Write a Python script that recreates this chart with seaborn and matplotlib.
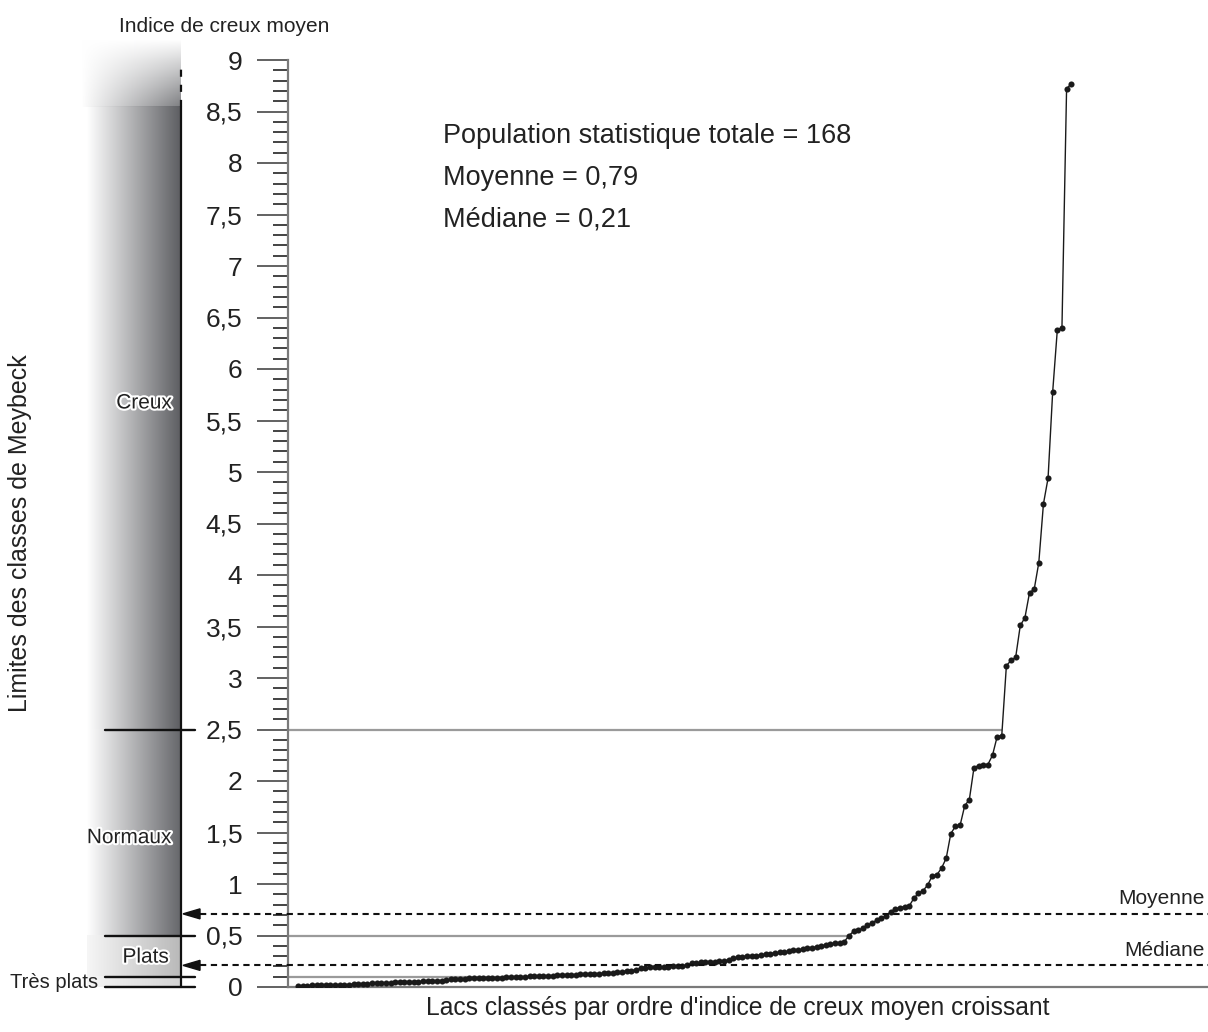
import numpy as np
import pandas as pd
import matplotlib
matplotlib.use("Agg")
import matplotlib.pyplot as plt
import seaborn as sns
from matplotlib.colors import to_rgb
from matplotlib import transforms
from matplotlib.patches import Polygon
from matplotlib.ticker import MultipleLocator, FixedLocator, FixedFormatter
import matplotlib.patheffects as pe

sns.set_theme(style="white")
plt.rcParams['font.family'] = ['Liberation Sans', 'DejaVu Sans']

# ---------------- data ----------------
indice_creux = [
    0.010, 0.012, 0.014, 0.015, 0.016, 0.017, 0.018, 0.019, 0.020, 0.021,
    0.022, 0.024, 0.028, 0.030, 0.031, 0.032, 0.034, 0.036, 0.038, 0.040,
    0.042, 0.044, 0.046, 0.048, 0.049, 0.050, 0.052, 0.054, 0.056, 0.058,
    0.060, 0.063, 0.068, 0.075, 0.078, 0.080, 0.082, 0.083, 0.085, 0.086,
    0.087, 0.088, 0.089, 0.090, 0.091, 0.093, 0.094, 0.096, 0.098, 0.100,
    0.102, 0.104, 0.106, 0.108, 0.110, 0.111, 0.112, 0.114, 0.116, 0.118,
    0.120, 0.122, 0.124, 0.126, 0.128, 0.130, 0.133, 0.136, 0.140, 0.145,
    0.150, 0.155, 0.160, 0.165, 0.180, 0.188, 0.190, 0.192, 0.194, 0.196,
    0.198, 0.200, 0.203, 0.206, 0.212, 0.230, 0.235, 0.238, 0.241, 0.244,
    0.247, 0.250, 0.255, 0.260, 0.280, 0.290, 0.295, 0.298, 0.300, 0.305,
    0.310, 0.320, 0.325, 0.330, 0.335, 0.340, 0.345, 0.355, 0.360, 0.365,
    0.375, 0.380, 0.390, 0.395, 0.410, 0.420, 0.425, 0.430,
    0.44, 0.50, 0.54, 0.55, 0.57, 0.60, 0.62, 0.65, 0.67, 0.69,
    0.73, 0.757, 0.77, 0.78, 0.786, 0.86, 0.91, 0.935, 0.99, 1.08,
    1.09, 1.155, 1.25, 1.49, 1.56, 1.57, 1.76, 1.82, 2.13, 2.15,
    2.155, 2.16, 2.25, 2.43, 2.44, 3.12, 3.17, 3.20, 3.51, 3.585,
    3.83, 3.86, 4.12, 4.69, 4.94, 5.78, 6.38, 6.40, 8.72, 8.77,
]
rang = list(range(1, len(indice_creux) + 1))

limites_classes = [0.1, 0.5, 2.5]           # Meybeck class limits
noms_classes = ["Très plats", "Plats", "Normaux", "Creux"]
niveau_moyenne = 0.71                        # drawn level of the mean line
niveau_mediane = 0.21
textes_stats = ["Population statistique totale = 168",
                "Moyenne = 0,79",
                "Médiane = 0,21"]
y_major = [i * 0.5 for i in range(19)]
y_labels = [f"{v:g}".replace(".", ",") for v in y_major]

df = pd.DataFrame({"rang": rang, "indice": indice_creux})

# ---------------- figure ----------------
W, H = 1208, 1032
fig = plt.figure(figsize=(W / 100, H / 100), dpi=100)
ax_bottom_px, ax_top_px = 987, 60
ax = fig.add_axes([288 / W, (H - ax_bottom_px) / H, (W - 288) / W,
                   (ax_bottom_px - ax_top_px) / H])
axL = fig.add_axes([0, (H - ax_bottom_px) / H, 288 / W,
                    (ax_bottom_px - ax_top_px) / H])
axL.set_xlim(0, 288)
axL.set_ylim(0, 9)
axL.axis("off")

# main axis
ax.set_ylim(0, 9)
ax.set_xlim(1 - 10 / 4.63, 1 + 910 / 4.63)
for s in ["top", "right"]:
    ax.spines[s].set_visible(False)
for s in ["left", "bottom"]:
    ax.spines[s].set_color("#7a7a7a")
    ax.spines[s].set_linewidth(1.6)
ax.set_xticks([])
ax.yaxis.set_major_locator(FixedLocator(y_major))
ax.yaxis.set_major_formatter(FixedFormatter(y_labels))
ax.yaxis.set_minor_locator(MultipleLocator(0.1))
ax.tick_params(axis="y", which="major", direction="out", length=22, width=1.3,
               color="#555555", pad=11, labelsize=19, labelcolor="#222222", left=True)
ax.tick_params(axis="y", which="minor", direction="out", length=11, width=1.1,
               color="#111111", left=True)
ax.grid(False)

# grey class-limit lines, ending at the curve
xl = ax.get_xlim()[0]
for t in limites_classes:
    xend = float(np.interp(t, indice_creux, rang))
    ax.hlines(t, xl, xend, color="#9a9a9a", lw=1.6, zorder=1)

sns.lineplot(data=df, x="rang", y="indice", ax=ax, color="#1a1a1a", lw=1.0,
             marker="o", markersize=4.4, markeredgewidth=0, zorder=3)
ax.set_xlabel("")
ax.set_ylabel("")

# ---------------- left panel: gradient bands ----------------
def grad_img(c0, c1, n=256, alpha_v=None):
    c0, c1 = np.array(to_rgb(c0)), np.array(to_rgb(c1))
    t = np.linspace(0, 1, n)
    row = c0[None, :] * (1 - t[:, None]) + c1[None, :] * t[:, None]
    if alpha_v is None:
        img = np.concatenate([row, np.ones((n, 1))], axis=1)[None, :, :]
    else:
        a = np.array(alpha_v)
        img = np.zeros((len(a), n, 4))
        img[:, :, :3] = row[None, :, :]
        img[:, :, 3] = a[:, None]
    return img

x0g, x1g = 87, 181
axL.imshow(grad_img("#ffffff", "#5d5e62"), extent=(x0g, x1g, 2.5, 8.54),
           aspect="auto", origin="lower", zorder=1)
axL.imshow(grad_img("#ffffff", "#66676b"), extent=(x0g, x1g, 0.5, 2.5),
           aspect="auto", origin="lower", zorder=1)
axL.imshow(grad_img("#f6f6f6", "#b9b9b9"), extent=(x0g, x1g, 0.1, 0.5),
           aspect="auto", origin="lower", zorder=1)
axL.imshow(grad_img("#f6f6f6", "#d4d4d4"), extent=(x0g, x1g, 0.0, 0.1),
           aspect="auto", origin="lower", zorder=1)
fade = np.linspace(0.8, 0.0, 64)
im = axL.imshow(grad_img("#ffffff", "#5d5e62", alpha_v=fade),
                extent=(82, x1g, 8.54, 9.2), aspect="auto", origin="lower", zorder=1)
im.set_clip_on(False)

# black vertical line
axL.plot([181, 181], [0, 8.54], color="#111111", lw=1.6, zorder=3, clip_on=False)
axL.plot([181, 181], [8.54, 8.94], color="#111111", lw=1.6, zorder=3,
         clip_on=False, dashes=(3.2, 3.6))
# class limit ticks
for t in [0.0] + limites_classes:
    axL.plot([105, 195], [t, t], color="#111111", lw=1.7, zorder=3, clip_on=False)

halo = [pe.withStroke(linewidth=3, foreground="white")]
axL.text(172, 5.67, "Creux", ha="right", va="center", fontsize=15,
         color="#222222", path_effects=halo, zorder=4)
axL.text(172, 1.45, "Normaux", ha="right", va="center", fontsize=15,
         color="#222222", path_effects=halo, zorder=4)
axL.text(169, 0.29, "Plats", ha="right", va="center", fontsize=15,
         color="#222222", path_effects=halo, zorder=4)
axL.text(98, 0.04, "Très plats", ha="right", va="center", fontsize=14.5,
         color="#222222", zorder=4)

# mean / median arrows and dashed lines
blend = transforms.blended_transform_factory(fig.transFigure, ax.transData)
for lvl in [niveau_moyenne, niveau_mediane]:
    axL.add_patch(Polygon([(183, lvl), (200, lvl + 5 / 103), (200, lvl - 5 / 103)],
                          closed=True, color="#111111", zorder=4, clip_on=False))
    ln = plt.Line2D([200 / W, 1.0], [lvl, lvl], transform=blend, color="#111111",
                    lw=1.5, dashes=(3.0, 2.2), zorder=2)
    fig.add_artist(ln)

fig.text(1205 / W, 1 - 898 / H, "Moyenne", ha="right", va="center", fontsize=15,
         color="#222222")
fig.text(1205 / W, 1 - 951 / H, "Médiane", ha="right", va="center", fontsize=15,
         color="#222222")

# ---------------- texts ----------------
for i, s in enumerate(textes_stats):
    fig.text(443 / W, 1 - (136 + 42 * i) / H, s, ha="left", va="center",
             fontsize=19.5, color="#222222")
fig.text(119 / W, 1 - 27 / H, "Indice de creux moyen", ha="left", va="center",
         fontsize=15, color="#222222")
fig.text(738 / W, 1 - 1008 / H,
         "Lacs classés par ordre d'indice de creux moyen croissant",
         ha="center", va="center", fontsize=17.7, color="#222222")
fig.text(20 / W, 1 - 533 / H, "Limites des classes de Meybeck", ha="center",
         va="center", rotation=90, fontsize=18, color="#222222")

fig.savefig("out.png", dpi=100)
